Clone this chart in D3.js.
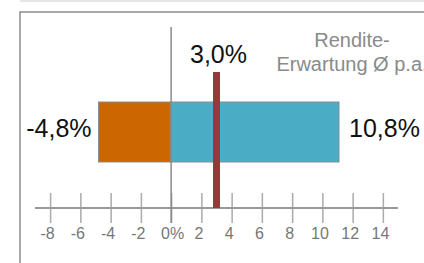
<!DOCTYPE html>
<html>
<head>
<meta charset="utf-8">
<script src="https://cdn.jsdelivr.net/npm/d3@7"></script>
<style>
  body { margin: 0; background: #fff; }
  svg { display: block; font-family: "Liberation Sans", Arial, sans-serif; }
</style>
</head>
<body>
<script>
// range of expected return (low / high) and the mean
var rangeValues = [-4.8, 11.1];
var rangeLabels = ["-4,8%", "10,8%"];
var meanValue = 3.0;
var meanLabel = "3,0%";
var tickValues = [-8, -6, -4, -2, 0, 2, 4, 6, 8, 10, 12, 14];
var titleLines = ["Rendite-", "Erwartung Ø p.a."];

var width = 424;
var height = 263;

var xScale = d3.scaleLinear()
    .domain([-9, 15])
    .range([35, 398]);

var axisY = 208;
var barTop = 102;
var barHeight = 60;

var svg = d3.select("body")
    .append("svg")
    .attr("width", width)
    .attr("height", height);

// light line at the very top
svg.append("line")
    .attr("x1", 20).attr("x2", width)
    .attr("y1", 1).attr("y2", 1)
    .attr("stroke", "#e6e6e6")
    .attr("stroke-width", 2);

// frame (runs off the right and bottom edge)
svg.append("rect")
    .attr("x", 20)
    .attr("y", 12)
    .attr("width", width)
    .attr("height", height)
    .attr("fill", "none")
    .attr("stroke", "#8c8c8c")
    .attr("stroke-width", 1.5);

// axis
var xAxis = d3.axisBottom(xScale)
    .tickValues(tickValues)
    .tickSize(15)
    .tickPadding(3)
    .tickFormat(function (d) { return d === 0 ? "0%" : d; });

var axis = svg.append("g")
    .attr("transform", "translate(0," + (axisY - 15) + ")")
    .call(xAxis);

axis.select(".domain").remove();
axis.selectAll(".tick line")
    .attr("stroke", "#aaa")
    .attr("stroke-width", 1.5)
    .attr("y2", 30);
axis.selectAll(".tick text")
    .attr("y", 35)
    .attr("dx", function (d) { return d === 0 ? 1 : -3; })
    .attr("fill", "#777")
    .style("font-size", "16px")
    .style("font-family", "Liberation Sans, Arial, sans-serif");

svg.append("line")
    .attr("x1", xScale(-9)).attr("x2", xScale(15))
    .attr("y1", axisY).attr("y2", axisY)
    .attr("stroke", "#999")
    .attr("stroke-width", 2);

// bars: negative part orange, positive part blue
var segments = [
    {from: rangeValues[0], to: 0, color: "#cc6600"},
    {from: 0, to: rangeValues[1], color: "#4bacc6"}
];

svg.selectAll("rect.bar")
    .data(segments)
    .enter()
    .append("rect")
    .attr("class", "bar")
    .attr("x", function (d) { return xScale(d.from); })
    .attr("y", barTop)
    .attr("width", function (d) { return xScale(d.to) - xScale(d.from); })
    .attr("height", barHeight)
    .attr("fill", function (d) { return d.color; })
    .attr("stroke", "#8c8c8c")
    .attr("stroke-width", 1);

// zero line
svg.append("line")
    .attr("x1", xScale(0)).attr("x2", xScale(0))
    .attr("y1", 27).attr("y2", axisY + 15)
    .attr("stroke", "#888")
    .attr("stroke-width", 1.5);

// mean marker
svg.append("rect")
    .attr("x", xScale(meanValue) - 3.5)
    .attr("y", 72)
    .attr("width", 7)
    .attr("height", axisY - 72)
    .attr("fill", "#993838");

svg.append("text")
    .attr("x", xScale(meanValue) + 2)
    .attr("y", 63)
    .attr("text-anchor", "middle")
    .style("font-size", "25px")
    .attr("fill", "#111")
    .text(meanLabel);

// range labels
svg.append("text")
    .attr("x", xScale(rangeValues[0]) - 7)
    .attr("y", 137)
    .attr("text-anchor", "end")
    .style("font-size", "25px")
    .attr("fill", "#111")
    .text(rangeLabels[0]);

svg.append("text")
    .attr("x", xScale(rangeValues[1]) + 10)
    .attr("y", 137)
    .attr("text-anchor", "start")
    .style("font-size", "25px")
    .attr("fill", "#111")
    .text(rangeLabels[1]);

// title top right (cut off at the right edge, as in the original)
svg.selectAll("text.title")
    .data(titleLines)
    .enter()
    .append("text")
    .attr("class", "title")
    .attr("x", 352)
    .attr("y", function (d, i) { return 47 + i * 24; })
    .attr("text-anchor", "middle")
    .style("font-size", "20px")
    .attr("fill", "#8a8a8a")
    .text(function (d) { return d; });
</script>
</body>
</html>
